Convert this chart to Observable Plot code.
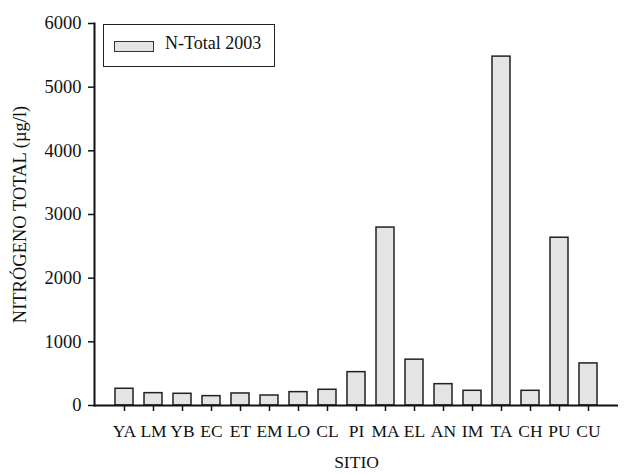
<!DOCTYPE html>
<html><head><meta charset="utf-8">
<script src="https://cdn.jsdelivr.net/npm/d3@7"></script>
<script src="https://cdn.jsdelivr.net/npm/@observablehq/plot@0.6"></script>
<style>
body{margin:0;background:#fff;}
#wrap{position:relative;width:625px;height:474px;}
.legend{position:absolute;left:103px;top:24px;width:170px;height:41px;border:1.6px solid #222;font-family:"Liberation Serif",serif;font-size:18px;color:#111;box-sizing:content-box;}
.legend .sw{position:absolute;left:10px;top:16px;width:38px;height:9px;border:1.4px solid #333;background:#e4e4e4;}
.legend .tx{position:absolute;left:61px;top:8px;white-space:nowrap;}
</style></head><body><div id="wrap"></div>
<script>
const sites = ["YA","LM","YB","EC","ET","EM","LO","CL","PI","MA","EL","AN","IM","TA","CH","PU","CU"];
const values = [263,194,184,147,189,157,210,247,524,2795,720,335,231,5480,231,2635,661];
const seriesLabel = "N-Total 2003";
const yTicks = [0,1000,2000,3000,4000,5000,6000];
const xTitle = "SITIO";
const yTitle = "NITRÓGENO TOTAL (µg/l)";

const data = sites.map((s,i)=>({site:s, value:values[i]}));

const chart = Plot.plot({
  width:625, height:474,
  marginLeft:94, marginRight:7, marginTop:23, marginBottom:69,
  style:{fontFamily:"Liberation Serif, serif", fontSize:"17.5px", color:"#111", background:"#fff"},
  x:{domain:sites, paddingInner:0.38, paddingOuter:0.69},
  y:{domain:[0,6000]},
  marks:[
    Plot.barY(data,{x:"site", y:"value", fill:"#e4e4e4", stroke:"#222", strokeWidth:1.5}),
    Plot.axisX({tickSize:6, tickPadding:13, label:xTitle, labelAnchor:"center", labelArrow:"none", labelOffset:62, strokeWidth:1.5, fontSize:17.5}),
    Plot.axisY({ticks:yTicks, tickFormat:d=>String(d), tickSize:6, tickPadding:7, label:yTitle, labelAnchor:"center", labelArrow:"none", labelOffset:82, strokeWidth:1.5, fontSize:18.5}),
    Plot.ruleY([0], {stroke:"#111", strokeWidth:2}),
    Plot.frame({anchor:"left", stroke:"#111", strokeWidth:2})
  ]
});
const wrap = document.getElementById("wrap");
wrap.appendChild(chart);
const leg = document.createElement("div");
leg.className = "legend";
leg.innerHTML = '<div class="sw"></div><div class="tx"></div>';
leg.querySelector(".tx").textContent = seriesLabel;
wrap.appendChild(leg);
</script>
</body></html>
